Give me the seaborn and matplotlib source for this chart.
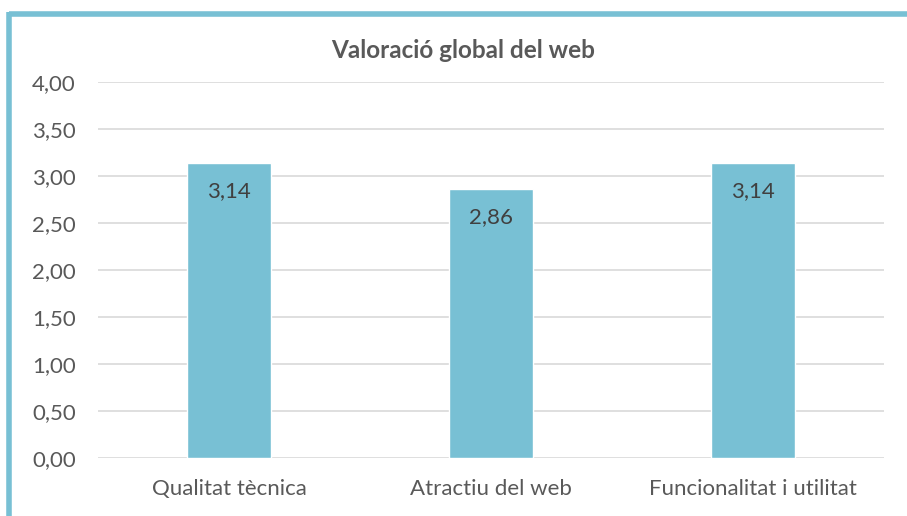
import matplotlib
matplotlib.use('Agg')
import matplotlib.pyplot as plt
import seaborn as sns
import pandas as pd
from matplotlib.lines import Line2D

categories = ['Qualitat tècnica', 'Atractiu del web', 'Funcionalitat i utilitat']
values = [3.14, 2.86, 3.14]
yticks = [0, 0.5, 1, 1.5, 2, 2.5, 3, 3.5, 4]

df = pd.DataFrame({'cat': categories, 'val': values})

sns.set_style('white')
plt.rcParams['font.family'] = ['Lato', 'DejaVu Sans']

color = '#78C0D4'
text_col = '#595959'

fig = plt.figure(figsize=(9.07, 5.16), dpi=100)
ax = fig.add_axes([98/907, 1-458/516, (884-98)/907, (458-82)/516])

sns.barplot(data=df, x='cat', y='val', color=color, width=0.32, saturation=1, ax=ax)

ax.set_ylim(0, 4)
ax.set_yticks(yticks)
ax.set_yticklabels([f'{t:.2f}'.replace('.', ',') for t in yticks], fontsize=16, color=text_col)
ax.tick_params(axis='x', labelsize=16, colors=text_col, length=0, pad=15)
ax.tick_params(axis='y', length=0, pad=16)
ax.set_xlabel('')
ax.set_ylabel('')
ax.grid(axis='y', color='#D9D9D9', linewidth=1.2)
ax.set_axisbelow(True)
for s in ax.spines.values():
    s.set_visible(False)

for p, v in zip(ax.patches, values):
    ax.text(p.get_x() + p.get_width()/2, v - 0.19, f'{v:.2f}'.replace('.', ','),
            ha='center', va='top', fontsize=16, color='#404040')

fig.text(463/907, 1-50/516, 'Valoració global del web', ha='center', va='center',
         fontsize=17.5, fontweight='bold', color=text_col)

# marc (vores superior i esquerra)
fig.add_artist(Line2D([9/907, 1], [1-14/516, 1-14/516], color=color, linewidth=4,
                      transform=fig.transFigure, solid_capstyle='butt'))
fig.add_artist(Line2D([9/907, 9/907], [0, 1-12/516], color=color, linewidth=4,
                      transform=fig.transFigure, solid_capstyle='butt'))

fig.savefig('out.png', dpi=100)
